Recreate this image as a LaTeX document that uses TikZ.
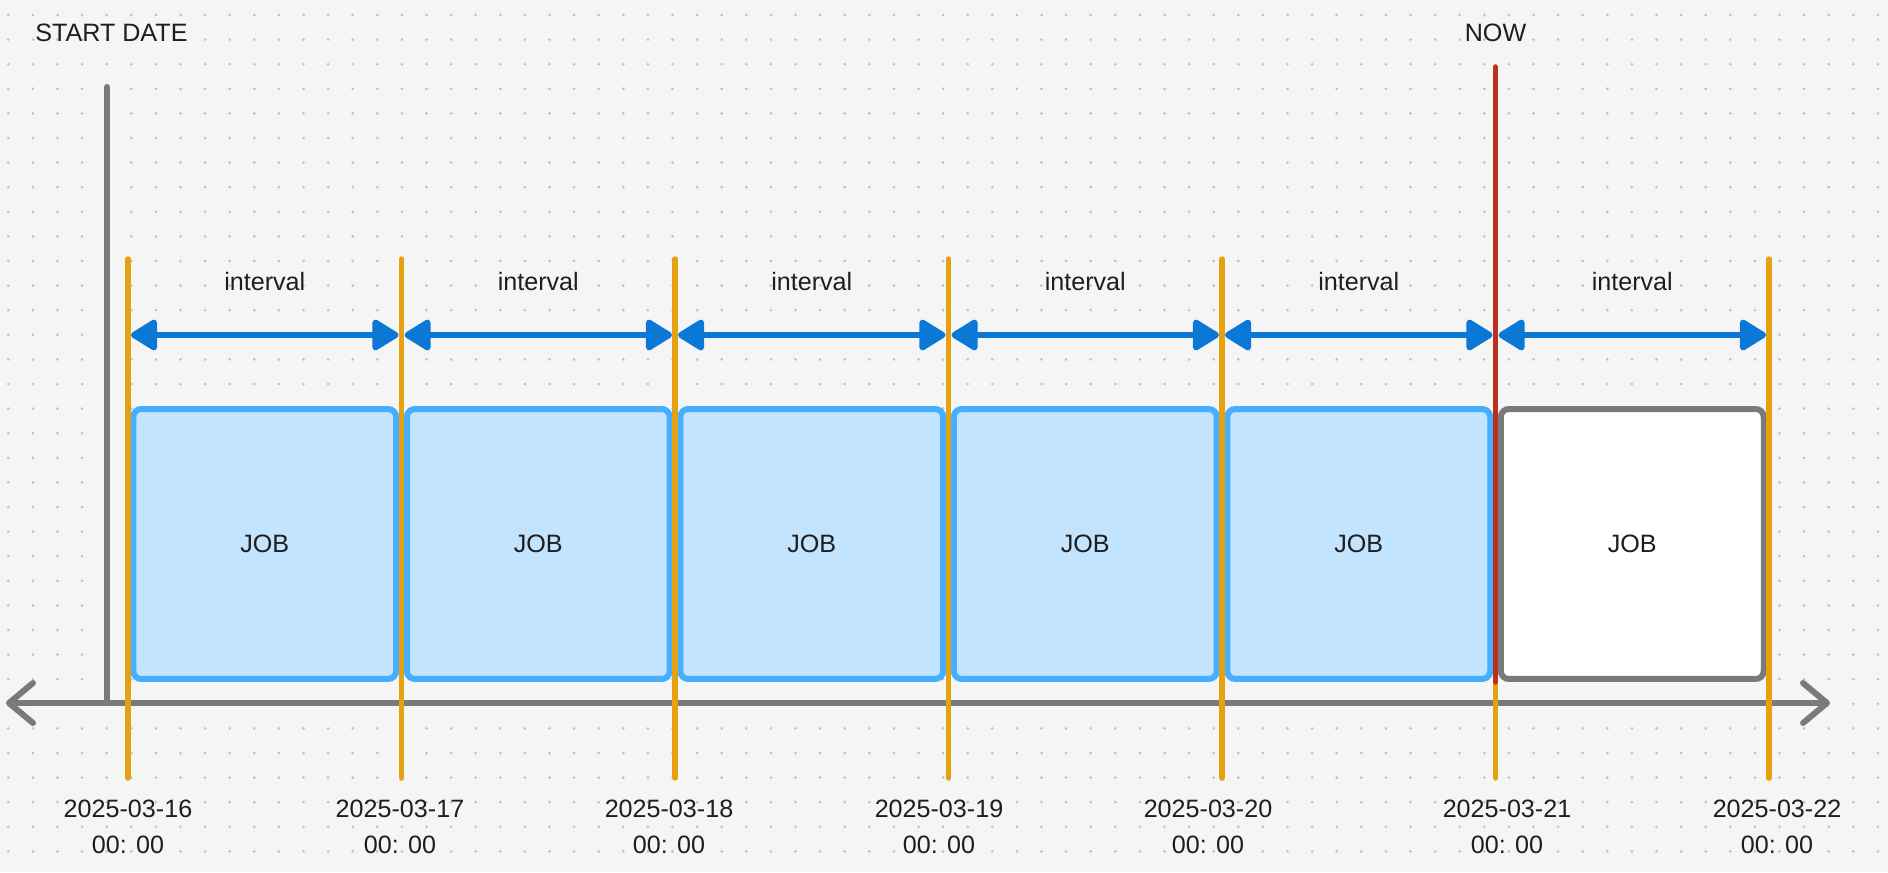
\documentclass[tikz,border=0pt]{standalone}
\usepackage{fontspec}
\setmainfont{Liberation Sans}
\usetikzlibrary{arrows.meta}

\definecolor{bgcol}{HTML}{F5F5F5}
\definecolor{dotcol}{HTML}{C2C2C2}
\definecolor{inkcol}{HTML}{1E1E1E}
\definecolor{tickcol}{HTML}{E6A110}
\definecolor{nowcol}{HTML}{B9311E}
\definecolor{axiscol}{HTML}{7A7A7A}
\definecolor{spancol}{HTML}{0A78D4}
\definecolor{jobfill}{HTML}{C2E4FF}
\definecolor{jobline}{HTML}{45AEFF}

\begin{document}
\begin{tikzpicture}[x=0.02cm,y=-0.02cm,
  lbl/.style={text=inkcol,font=\fontsize{14.3}{20.4}\selectfont,inner sep=0pt},
  jobbox/.style={draw=jobline,fill=jobfill,line width=0.12cm,rounded corners=0.16cm,
    minimum width=5.26cm,minimum height=5.4cm,inner sep=0pt,text=inkcol,
    font=\fontsize{14.3}{20.4}\selectfont},
  tick/.style={draw=tickcol,line width=0.11cm,line cap=round},
  nowline/.style={draw=nowcol,line width=0.11cm,line cap=round},
  axis/.style={draw=axiscol,line width=0.12cm,line cap=round},
  span/.style={draw=spancol,line width=0.12cm,shorten <=0.06cm,shorten >=0.06cm,
    {Triangle[length=0.58cm,width=0.68cm,round]}-{Triangle[length=0.58cm,width=0.68cm,round]}}]
\useasboundingbox (0,0) rectangle (1888,872);
\fill[bgcol] (0,0) rectangle (1888,872);

% dotted canvas
\fill[dotcol] \foreach \i in {0,...,76} {\foreach \j in {0,...,34} {(8.3+24.6*\i,15+24.6*\j) circle (0.03cm)}};

% points on the time axis
\foreach \i in {0,...,6} {
  \coordinate (top\i) at (128+273.5*\i,259);
  \coordinate (bot\i) at (128+273.5*\i,778);
  \coordinate (arr\i) at (128+273.5*\i,335);
}
\coordinate (startTop) at (107,87);
\coordinate (startBot) at (107,703);
\coordinate (nowTop) at (1495.5,67);
\coordinate (nowBot) at (1495.5,682);
\coordinate (axL) at (6,703);
\coordinate (axR) at (1830,703);

% jobs
\foreach \i in {1,...,5}
  \node[jobbox] (job\i) at (-8.75+273.5*\i,544) {JOB};
\node[jobbox,draw=axiscol,fill=white] (job6) at (1632.25,544) {JOB};

% time axis and start date
\draw[axis,{Straight Barb[length=0.48cm,width=0.8cm,round]}-{Straight Barb[length=0.48cm,width=0.8cm,round]}] (axL) -- (axR);
\draw[axis] (startTop) -- (startBot);
\node[lbl,anchor=base west] (startlbl) at (35,41) {START DATE};

% interval boundaries
\foreach \i in {0,...,6}
  \draw[tick] (top\i) -- (bot\i);

% now
\draw[nowline] (nowTop) -- (nowBot);
\node[lbl,anchor=base] (nowlbl) at (1495.5,41) {NOW};

% intervals
\foreach \i/\j in {0/1,1/2,2/3,3/4,4/5,5/6} {
  \draw[span] (arr\i) -- (arr\j);
  \node[lbl,anchor=base] (int\i) at (264.75+273.5*\i,290) {interval};
}

% dates
\foreach \i/\x/\d in {0/128/16,1/400/17,2/669/18,3/939/19,4/1208/20,5/1507/21,6/1777/22}
  \node[lbl,align=center] (date\i) at (\x,826.5) {2025-03-\d\\00: 00};
\end{tikzpicture}
\end{document}
